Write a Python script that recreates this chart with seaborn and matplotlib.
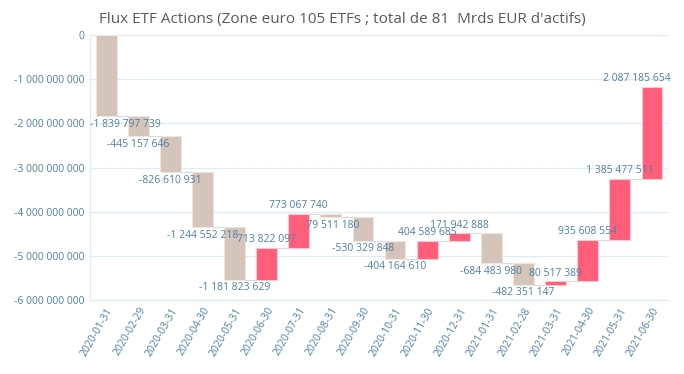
import numpy as np
import pandas as pd
import matplotlib
matplotlib.use("Agg")
import matplotlib.pyplot as plt
import seaborn as sns

dates = ['2020-01-31', '2020-02-29', '2020-03-31', '2020-04-30', '2020-05-31', '2020-06-30',
         '2020-07-31', '2020-08-31', '2020-09-30', '2020-10-31', '2020-11-30', '2020-12-31',
         '2021-01-31', '2021-02-28', '2021-03-31', '2021-04-30', '2021-05-31', '2021-06-30']
flows = [-1839797739, -445157646, -826610931, -1244552218, -1181823629, 713822097,
         773067740, -79511180, -530329848, -404164610, 404589685, 171942888,
         -684483980, -482351147, 80517389, 935608554, 1385477511, 2087185654]
yticks = [0, -1000000000, -2000000000, -3000000000, -4000000000, -5000000000, -6000000000]
title = "Flux ETF Actions (Zone euro 105 ETFs ; total de 81  Mrds EUR d'actifs)"

TAN = '#D5C4B9'
RED = '#FF5F7A'
TXT = '#4F80A3'


def fmt(v):
    return f"{v:,}".replace(",", " ")


def waterfall_plot(df):
    sns.set_style("white")
    plt.rcParams['font.family'] = ['Open Sans', 'DejaVu Sans']
    fig = plt.figure(figsize=(6.84, 3.74), dpi=100)
    ax = fig.add_axes([0.1316, 0.198, 0.845, 0.708])

    width = 0.65
    sns.barplot(data=df, x='date', y='flow', bottom=df['start'], width=width,
                errorbar=None, color=TAN, linewidth=0.8, ax=ax)
    for patch, v in zip(ax.patches, df['flow']):
        if v < 0:
            patch.set_facecolor(TAN)
            patch.set_edgecolor('#EDE5E0')
        else:
            patch.set_facecolor(RED)
            patch.set_edgecolor('#FFC9D2')

    # connectors
    n = len(df)
    ends = df['end'].values
    ax.hlines(ends[:-1], np.arange(n - 1) + width / 2, np.arange(1, n) - width / 2,
              color='#D9D9D9', linewidth=0.8, zorder=1)

    # data labels
    for i, (v, e) in enumerate(zip(df['flow'], ends)):
        if v < 0:
            y, va = e - 60e6, 'top'
        else:
            y, va = e + 60e6, 'bottom'
        if i == 0:
            ax.text(i - 0.5, y, fmt(v), ha='left', va=va, color=TXT, fontsize=7.5)
        elif i == n - 1:
            ax.text(i + 0.58, y, fmt(v), ha='right', va=va, color=TXT, fontsize=7.5,
                    clip_on=False)
        else:
            ax.text(i, y, fmt(v), ha='center', va=va, color=TXT, fontsize=7.5)

    ax.set_ylim(-6e9, 0)
    ax.set_xlim(-0.5, n - 0.5)
    ax.set_yticks(yticks)
    ax.set_yticklabels([fmt(t) for t in yticks], color=TXT, fontsize=7.5)
    ax.set_xticks(range(n))
    ax.set_xticklabels(df['date'], rotation=60, ha='right', rotation_mode='anchor',
                       color=TXT, fontsize=7.5)
    ax.tick_params(axis='both', length=0, pad=4)
    ax.set_xlabel('')
    ax.set_ylabel('')
    ax.yaxis.grid(True, color='#DFEAF1', linewidth=0.9)
    ax.set_axisbelow(True)
    for s in ['top', 'right']:
        ax.spines[s].set_visible(False)
    for s in ['left', 'bottom']:
        ax.spines[s].set_color('#DFEAF1')
        ax.spines[s].set_linewidth(0.9)

    fig.text(0.5, 0.949, title, ha='center', va='center', color='#595959', fontsize=11)
    fig.savefig('out.png', dpi=100)


def main():
    df = pd.DataFrame({'date': dates, 'flow': flows})
    df['end'] = df['flow'].cumsum()
    df['start'] = df['end'] - df['flow']
    waterfall_plot(df)


if __name__ == '__main__':
    main()
